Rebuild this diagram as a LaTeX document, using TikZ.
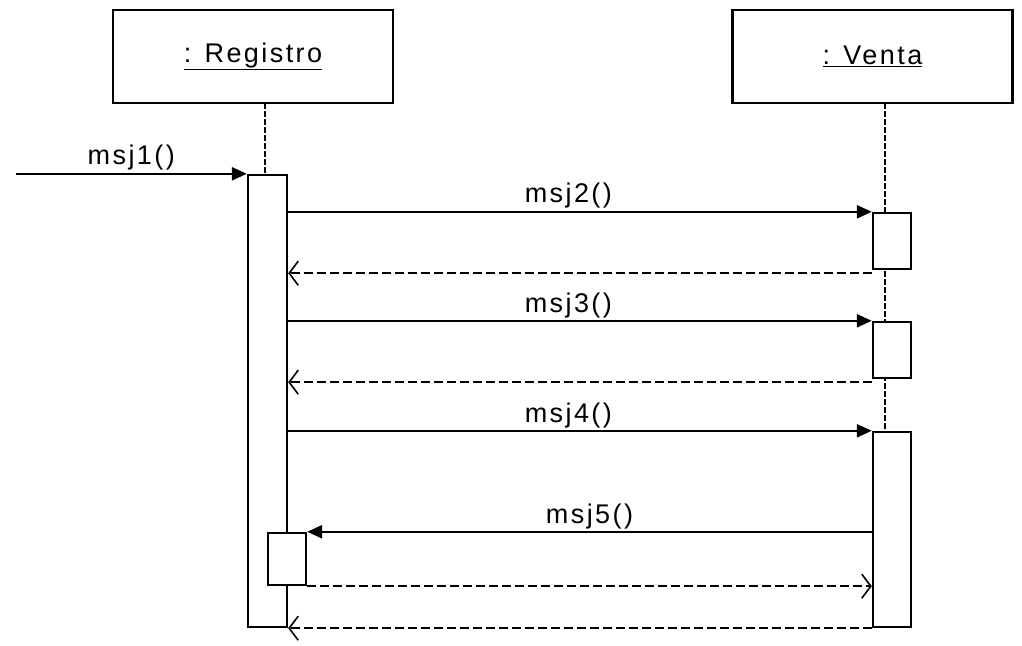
\documentclass[tikz,border=0pt]{standalone}
\usepackage{fontspec}
\setmainfont{Liberation Sans}[LetterSpace=9]
\usetikzlibrary{arrows.meta}

\begin{document}
\begin{tikzpicture}[x=1pt, y=-1pt,
    objbox/.style={draw, line width=2.6pt, fill=white, minimum width=280pt, minimum height=93pt, inner sep=0pt},
    actbar/.style={draw, line width=2.4pt, fill=white, minimum width=38pt, inner sep=0pt},
    lifeline/.style={line width=1.8pt, dash pattern=on 6pt off 2pt},
    callmsg/.style={line width=2.4pt, -{Triangle[length=15pt, width=13pt]}},
    retmsg/.style={line width=2.2pt, dash pattern=on 9pt off 4pt, -{Straight Barb[length=9pt, width=24pt, line width=1.6pt]}},
    msglabel/.style={font=\fontsize{27}{30}\selectfont, inner sep=2pt}]
        \useasboundingbox (0,0) rectangle (1022,645);

        % Objects
        \node[objbox, font=\fontsize{27}{30}\selectfont] (reg) at (253,56.5) {\underline{: Registro}};
        \node[objbox, font=\fontsize{27}{30}\selectfont] (ven) at (872.5,56.5) {\underline{: Venta}};

        % Lifelines
        \coordinate (regtop) at (265,103);
        \coordinate (regend) at (265,627);
        \coordinate (ventop) at (885,103);
        \coordinate (venend) at (885,627);
        \draw[lifeline] (regtop) -- (regend);
        \draw[lifeline] (ventop) -- (venend);

        % Activation bars
        \node[actbar, minimum width=39pt, minimum height=452pt] (regact) at (267.5,401) {};
        \node[actbar, minimum height=56pt] (vact1) at (892,241) {};
        \node[actbar, minimum height=56pt] (vact2) at (892,350) {};
        \node[actbar, minimum height=195pt] (vact3) at (892,529.5) {};
        \node[actbar, minimum height=52pt] (selfact) at (287,559) {};

        % Incoming message
        \coordinate (src) at ([xshift=-231pt]regact.north west);
        \draw[callmsg] (src) -- (regact.north west) node[msglabel, midway, above] {msj1()};

        % Calls and returns
        \draw[callmsg] (regact.east |- vact1.north) -- (vact1.north west) node[msglabel, pos=0.48, above] {msj2()};
        \draw[retmsg] ([yshift=-3pt]vact1.south west) -- ([yshift=-3pt]regact.east |- vact1.south);
        \draw[callmsg] (regact.east |- vact2.north) -- (vact2.north west) node[msglabel, pos=0.48, above] {msj3()};
        \draw[retmsg] ([yshift=-3pt]vact2.south west) -- ([yshift=-3pt]regact.east |- vact2.south);
        \draw[callmsg] (regact.east |- vact3.north) -- (vact3.north west) node[msglabel, pos=0.48, above] {msj4()};
        \draw[callmsg] (vact3.west |- selfact.north) -- (selfact.north east) node[msglabel, midway, above] {msj5()};
        \draw[retmsg] (selfact.south east) -- (vact3.west |- selfact.south);
        \draw[retmsg] (vact3.south west) -- (regact.south east);
    \end{tikzpicture}
\end{document}
